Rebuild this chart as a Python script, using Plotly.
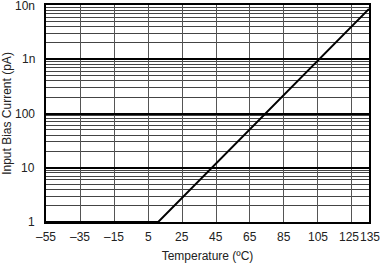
import math
import plotly.graph_objects as go

temp_c = [-55, 11, 135]
bias_pa = [1.0, 1.0, 8500]

x_ticks = [-55, -35, -15, 5, 25, 45, 65, 85, 105, 125, 135]
x_labels = ["–55", "–35", "–15", "5", "25", "45", "65", "85", "105", "125", "135"]
y_ticks = [1, 10, 100, 1000, 10000]
y_labels = ["1", "10", "100", "1n", "10n"]
y_minor = [m * d for d in [1, 10, 100, 1000] for m in range(2, 10)]

fig = go.Figure()
fig.add_trace(go.Scatter(x=temp_c, y=bias_pa, mode="lines",
                         line=dict(color="black", width=2), showlegend=False))

font = dict(family="Liberation Sans, Arial, sans-serif", size=12, color="#222")

# tick labels as annotations (nudge 125 left so it doesn't collide with 135)
for v, t in zip(x_ticks, x_labels):
    fig.add_annotation(x=v, y=0, xref="x", yref="paper", text=t, showarrow=False,
                       xanchor="center", yanchor="top", yshift=-7,
                       xshift=-3 if v == 125 else (1 if v == 135 else 0),
                       font=font, borderpad=0)
for v, t in zip(y_ticks, y_labels):
    # annotations on a log axis take log10 positions
    fig.add_annotation(x=0, y=math.log10(v), xref="paper", yref="y", text=t, showarrow=False,
                       xanchor="right", yanchor="middle", xshift=-10,
                       yshift=-1 if v == 10000 else 0,
                       font=font, borderpad=0)

fig.update_layout(
    width=382, height=263,
    margin=dict(l=46, r=13, t=5, b=41),
    paper_bgcolor="white", plot_bgcolor="white",
    font=font,
    xaxis=dict(
        range=[-55.02, 135.02], tickvals=x_ticks, showticklabels=False,
        automargin=False,
        showgrid=True, gridcolor="#555", gridwidth=1,
        showline=True, linecolor="black", linewidth=2, mirror=True,
        ticks="", zeroline=False,
        title=dict(text="Temperature (ºC)", font=font, standoff=31),
    ),
    yaxis=dict(
        type="log", range=[-0.0005, 4.0005], tickvals=y_ticks, showticklabels=False,
        automargin=False,
        showgrid=True, gridcolor="black", gridwidth=2,
        minor=dict(tickvals=y_minor, showgrid=True, gridcolor="#444", gridwidth=1, ticks=""),
        showline=True, linecolor="black", linewidth=2, mirror=True,
        ticks="", zeroline=False,
        title=dict(text="Input Bias Current (pA)", font=font, standoff=32),
    ),
)

fig.write_html("out.html")
